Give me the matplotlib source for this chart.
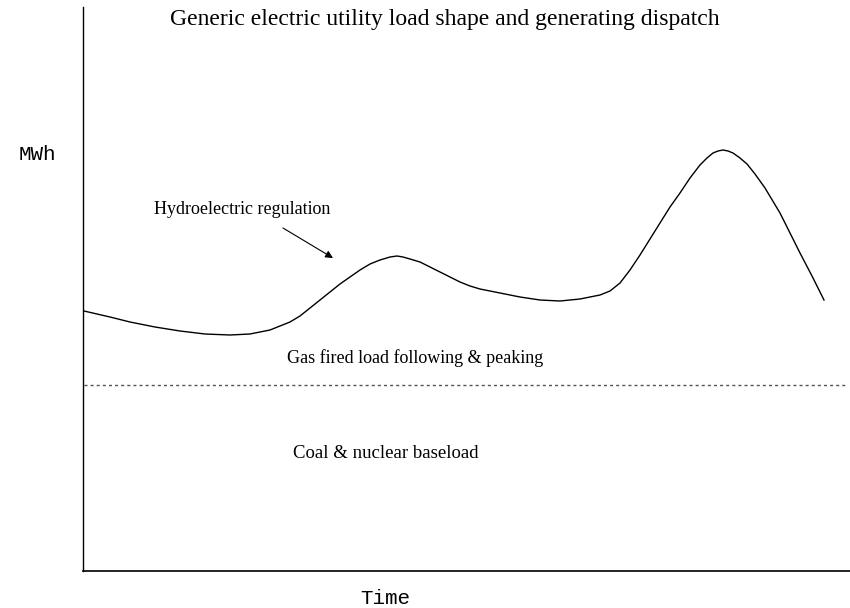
import matplotlib
matplotlib.use("Agg")
import matplotlib.pyplot as plt

# load shape (arbitrary time units / MWh units)
time = [1, 27, 47, 72, 97, 122, 147, 167, 187, 207, 217, 227, 237, 247, 257,
        267, 277, 287, 297, 307, 314, 320, 327, 337, 347, 357, 367, 377, 387,
        397, 417, 437, 457, 477, 497, 507, 517, 527, 537, 547, 557, 567, 577,
        587, 597, 607, 617, 624, 630, 635, 640, 645, 650, 657, 664, 672, 682,
        697, 707, 717, 729, 741]
mwh = [260, 254, 249, 244, 240, 237, 236, 237, 241, 249, 255, 263, 271, 279, 287,
       294, 301, 307, 311, 314, 315, 314, 312, 309, 304, 299, 294, 289, 285,
       282, 278, 274, 271, 270, 272, 274, 276, 280, 288, 301, 316, 332, 348,
       364, 378, 393, 406, 413, 418, 420, 421, 420, 418, 413, 407, 397, 383,
       358, 338, 318, 295, 271]

baseload_level = 186
baseload_span = (1, 762)

title = "Generic electric utility load shape and generating dispatch"
labels = {
    "hydro": "Hydroelectric regulation",
    "gas": "Gas fired load following & peaking",
    "coal": "Coal & nuclear baseload",
}

serif = ["Liberation Serif", "DejaVu Serif"]
mono = ["Liberation Mono", "DejaVu Sans Mono"]

fig = plt.figure(figsize=(8.5, 6.08), dpi=100)
ax = fig.add_axes([83 / 850, 1 - 571 / 608, 1 - 83 / 850, (571 - 7) / 608])
ax.set_xlim(0, 767)
ax.set_ylim(0, 564)

ax.plot(time, mwh, color="black", lw=1.0)
ax.hlines(baseload_level, *baseload_span, colors="#555555", lw=1.0,
          linestyles=(0, (2.2, 2.2)))

ax.annotate("", xy=(250, 313), xytext=(200, 343),
            arrowprops=dict(arrowstyle="-|>", color="black", lw=0.8,
                            mutation_scale=11, shrinkA=0, shrinkB=0))

ax.text(362, 551, title, ha="center", va="center", fontsize=17, family=serif)
ax.text(159, 361, labels["hydro"], ha="center", va="center", fontsize=13, family=serif)
ax.text(332, 213, labels["gas"], ha="center", va="center", fontsize=13, family=serif)
ax.text(303, 118, labels["coal"], ha="center", va="center", fontsize=13.5, family=serif)

ax.text(-46, 416, "MWh", ha="center", va="center", fontsize=15, family=mono, clip_on=False)
ax.text(302, -27, "Time", ha="center", va="center", fontsize=15, family=mono, clip_on=False)

for side in ["top", "right"]:
    ax.spines[side].set_visible(False)
ax.spines["left"].set_linewidth(1.0)
ax.spines["bottom"].set_linewidth(1.2)
ax.set_xticks([])
ax.set_yticks([])

fig.savefig("out.png", dpi=100)
